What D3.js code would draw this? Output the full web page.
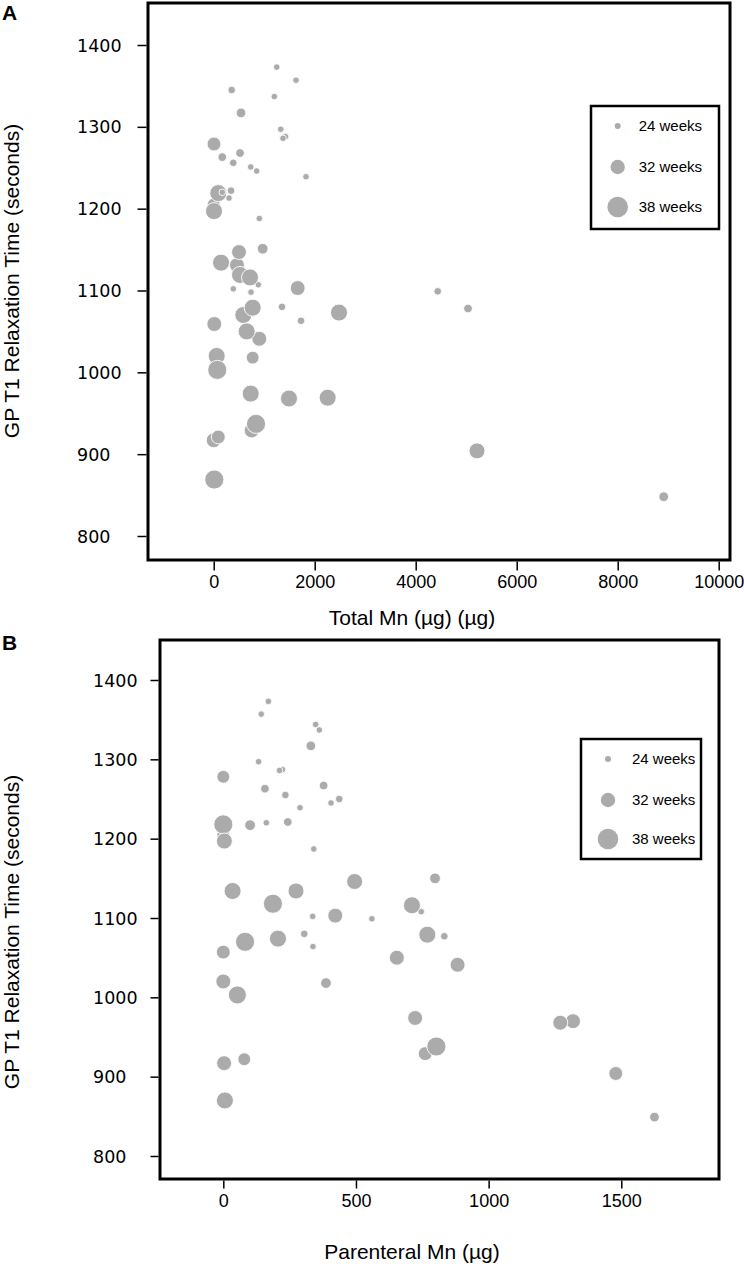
<!DOCTYPE html>
<html>
<head>
<meta charset="utf-8">
<script src="https://cdn.jsdelivr.net/npm/d3@7"></script>
<style>
  html, body { margin: 0; padding: 0; background: #fff; }
  svg { display: block; }
</style>
</head>
<body>
<div id="chart"></div>
<script>
// ---------------- DATA ----------------
// Panel A: Total Mn (µg), GP T1 (s), gestational age (weeks) -> marker size
const totalMn = [0,1248,1630,356,1200,541,1327,1422,1372,6,170,521,388,733,851,1828,303,91,170,343,6,903,970,461,501,145,883,521,719,388,739,1663,1352,1729,586,772,12,903,653,59,71,772,733,1491,2257,752,838,0,91,12,2481,4436,5036,5214,8911];
const t1A      = [1205,1373,1357,1345,1337,1317,1297,1288,1286,1279,1263,1268,1256,1251,1246,1239,1213,1219,1220,1222,1197,1188,1151,1131,1147,1134,1107,1119,1116,1102,1098,1103,1080,1063,1070,1079,1059,1041,1050,1020,1003,1018,974,968,969,929,937,917,921,869,1073,1099,1078,904,848];
const gaA      = [30,24,24,25,24,27,24,24,24,31,26,26,25,24,24,24,24,34,24,25,34,24,28,32,32,34,24,34,34,24,24,32,25,25,34,34,32,32,34,34,36,30,34,34,34,32,36,32,31,36,34,25,26,33,27];

// Panel B: Parenteral Mn (µg), GP T1 (s), gestational age (weeks)
const parenteralMn = [348,170,143,362,330,133,223,212,0,157,378,234,437,406,289,0,0,101,162,243,4,341,35,187,274,495,337,422,82,206,305,338,0,798,746,711,560,769,833,654,883,723,1318,1270,761,803,1479,1625,387,0,53,3,79,6];
const t1B          = [1344,1373,1357,1337,1317,1297,1287,1286,1278,1263,1267,1255,1250,1245,1239,1205,1218,1217,1220,1221,1197,1187,1134,1118,1134,1146,1102,1103,1070,1074,1080,1064,1057,1150,1108,1116,1099,1079,1077,1050,1041,974,970,968,929,938,904,849,1018,1020,1003,917,922,870];
const gaB          = [24,24,24,24,27,24,24,24,30,26,26,25,25,24,24,30,36,28,24,26,33,24,34,36,33,33,24,32,36,34,25,24,31,28,24,34,24,34,25,32,32,32,32,32,31,36,31,27,28,32,35,32,30,34];

// Ticks / labels
const yTicks = [800, 900, 1000, 1100, 1200, 1300, 1400];
const xTicksA = [0, 2000, 4000, 6000, 8000, 10000];
const xTicksB = [0, 500, 1000, 1500];
const legendWeeks = [24, 32, 38];
const legendLabels = ["24 weeks", "32 weeks", "38 weeks"];

// ---------------- DRAW ----------------
const W = 744, H = 1264;
const svg = d3.select("#chart").append("svg").attr("width", W).attr("height", H);

const rScale = d3.scaleLinear().domain([24, 38]).range([3.3, 10.6]);
const dotFill = "#ababab";

function panel(cfg) {
  const g = svg.append("g");
  const x = d3.scaleLinear().domain(cfg.xDomain).range(cfg.xRange);
  const y = d3.scaleLinear().domain([800, 1400]).range(cfg.yRange);
  const f = cfg.frame;

  // points
  const data = cfg.xs.map((v, i) => ({x: v, y: cfg.ys[i], ga: cfg.gas[i]}));
  g.append("g").selectAll("circle").data(data).join("circle")
    .attr("cx", d => x(d.x)).attr("cy", d => y(d.y)).attr("r", d => rScale(d.ga))
    .attr("fill", dotFill).attr("stroke", "#fff").attr("stroke-width", 0.9);

  // frame
  g.append("rect").attr("x", f.l).attr("y", f.t).attr("width", f.r - f.l).attr("height", f.b - f.t)
    .attr("fill", "none").attr("stroke", "#000").attr("stroke-width", 3);

  // y axis
  const ya = g.append("g").attr("transform", `translate(${f.l - 1.5},0)`)
    .call(d3.axisLeft(y).tickValues(yTicks).tickSize(cfg.yTickLen).tickFormat(d3.format("d")));
  ya.select(".domain").remove();
  ya.selectAll(".tick line").attr("stroke", "#000").attr("stroke-width", 1.5);
  ya.selectAll(".tick text").attr("x", cfg.yLabelX - (f.l - 1.5)).attr("dy", "0.35em")
    .attr("text-anchor", "start").attr("fill", "#000")
    .style("font-family", "'DejaVu Sans', sans-serif").style("font-size", "17.5px");

  // x axis
  const xa = g.append("g").attr("transform", `translate(0,${f.b + 1.5})`)
    .call(d3.axisBottom(x).tickValues(cfg.xTicks).tickSize(cfg.xTickLen).tickFormat(d3.format("d")));
  xa.select(".domain").remove();
  xa.selectAll(".tick line").attr("stroke", "#000").attr("stroke-width", 1.5);
  xa.selectAll(".tick text").attr("y", cfg.xLabelDy).attr("dy", "0.35em").attr("fill", "#000")
    .style("font-family", "'Liberation Sans', Arial, sans-serif").style("font-size", "18px");

  // axis titles
  g.append("text").attr("x", 412).attr("y", cfg.xTitleY).attr("text-anchor", "middle")
    .style("font-family", "'Liberation Sans', Arial, sans-serif").style("font-size", "21px")
    .text(cfg.xTitle);
  g.append("text").attr("transform", `translate(19,${cfg.yTitleCY}) rotate(-90)`).attr("text-anchor", "middle")
    .style("font-family", "'Liberation Sans', Arial, sans-serif").style("font-size", "21px")
    .text("GP T1 Relaxation Time (seconds)");

  // panel letter
  g.append("text").attr("x", 2).attr("y", cfg.letterY)
    .style("font-family", "'Liberation Sans', Arial, sans-serif").style("font-size", "21px").style("font-weight", "bold")
    .text(cfg.letter);

  // legend
  const L = cfg.legend;
  g.append("rect").attr("x", L.x0).attr("y", L.y0).attr("width", L.x1 - L.x0).attr("height", L.y1 - L.y0)
    .attr("fill", "#fff").attr("stroke", "#000").attr("stroke-width", 2.5);
  const li = g.append("g").selectAll("g").data(legendWeeks).join("g")
    .attr("transform", (d, i) => `translate(0,${L.ys[i]})`);
  li.append("circle").attr("cx", L.cx).attr("cy", 0).attr("r", d => rScale(d) - 0.3).attr("fill", dotFill);
  li.append("text").attr("x", L.tx).attr("y", 0).attr("dy", "0.35em")
    .style("font-family", "'Liberation Sans', Arial, sans-serif").style("font-size", "15px")
    .text((d, i) => legendLabels[i]);
}

panel({
  letter: "A", letterY: 20,
  xs: totalMn, ys: t1A, gas: gaA,
  xDomain: [0, 10000], xRange: [213.7, 718.7], yRange: [536, 45],
  frame: {l: 148, t: 3, r: 730, b: 560},
  yTickLen: 9, yLabelX: 77, xTicks: xTicksA, xTickLen: 9, xLabelDy: 20,
  xTitle: "Total Mn (µg) (µg)", xTitleY: 625, yTitleCY: 281,
  legend: {x0: 591, y0: 106, x1: 719, y1: 229, cx: 617.7, tx: 638.7, ys: [126, 167, 207]}
});

panel({
  letter: "B", letterY: 650,
  xs: parenteralMn, ys: t1B, gas: gaB,
  xDomain: [0, 1500], xRange: [223.3, 621.3], yRange: [1156, 680],
  frame: {l: 160, t: 640, r: 719, b: 1179},
  yTickLen: 8, yLabelX: 93, xTicks: xTicksB, xTickLen: 8, xLabelDy: 20,
  xTitle: "Parenteral Mn (µg)", xTitleY: 1259, yTitleCY: 932,
  legend: {x0: 581, y0: 739, x1: 701, y1: 859, cx: 608, tx: 632, ys: [759, 800, 839]}
});
</script>
</body>
</html>
